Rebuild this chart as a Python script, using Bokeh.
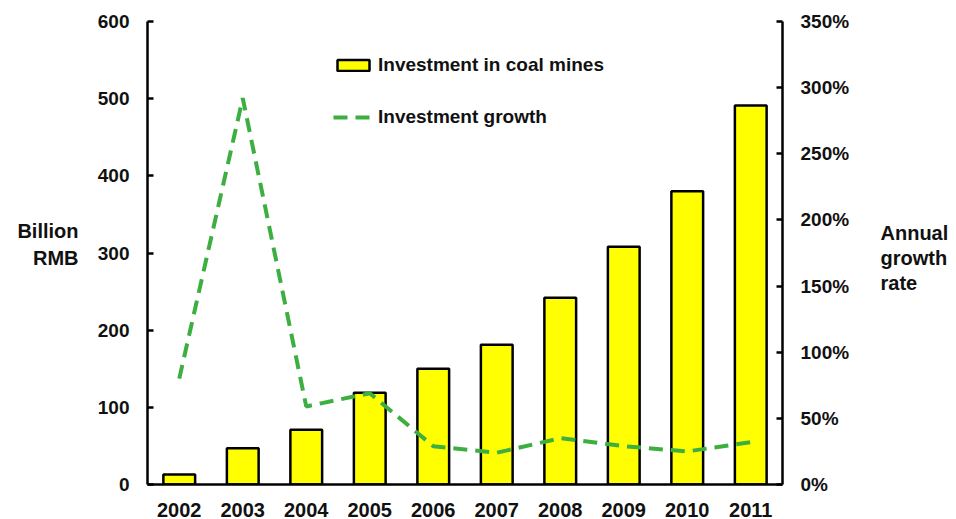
from bokeh.plotting import figure
from bokeh.models import (Range1d, LinearAxis, FixedTicker, NumeralTickFormatter,
                          Legend, LegendItem, FactorRange)
from bokeh.embed import file_html
from bokeh.resources import INLINE

years = ["2002", "2003", "2004", "2005", "2006", "2007", "2008", "2009", "2010", "2011"]
investment = [13, 47, 71, 119, 150, 181, 242, 308, 380, 491]
growth = [0.80, 2.92, 0.59, 0.69, 0.29, 0.24, 0.35, 0.29, 0.25, 0.32]
left_ticks = [0, 100, 200, 300, 400, 500, 600]
right_ticks = [0, 0.5, 1.0, 1.5, 2.0, 2.5, 3.0, 3.5]
left_title = ["Billion", "RMB"]
right_title = ["Annual", "growth", "rate"]

FONT = "Liberation Sans"

p = figure(width=956, height=519, x_range=FactorRange(*years, range_padding=0),
           y_range=Range1d(0, 600), output_backend="svg", toolbar_location=None,
           min_border_left=147, min_border_right=174, min_border_top=21, min_border_bottom=35)
p.extra_y_ranges = {"g": Range1d(0, 3.5), "t": Range1d(0, 350)}
p.outline_line_color = None
p.xgrid.grid_line_color = None
p.ygrid.grid_line_color = None

bars = p.vbar(x=years, top=investment, width=0.5, fill_color="#FFFF00",
              line_color="black", line_width=2.5)
line = p.line(x=years, y=growth, y_range_name="g", line_color="#3CAF40",
              line_width=4, line_dash="14 8")

p.yaxis[0].ticker = FixedTicker(ticks=left_ticks)
p.xaxis.major_tick_line_color = None
p.xaxis.minor_tick_line_color = None
p.xaxis.major_label_standoff = 12

right = LinearAxis(y_range_name="g", ticker=FixedTicker(ticks=right_ticks),
                   formatter=NumeralTickFormatter(format="0%"))
p.add_layout(right, "right")

for ax in [p.xaxis[0], p.yaxis[0], right]:
    ax.axis_line_width = 2.5
    ax.axis_line_color = "black"
    ax.major_label_text_font = FONT
    ax.major_label_text_font_style = "bold"
    ax.major_label_text_font_size = "19px"
    ax.major_label_text_color = "#111111"
p.xaxis.major_label_text_font_size = "20px"
for ax in [p.yaxis[0], right]:
    ax.major_tick_in = 6
    ax.major_tick_out = 0
    ax.major_tick_line_width = 2.5
    ax.minor_tick_line_color = None
    ax.major_label_standoff = 18

# axis titles drawn as label-only axes outside the value axes
lt_pos = [328, 294]
lt_axis = LinearAxis(ticker=FixedTicker(ticks=lt_pos),
                     major_label_overrides={v: t for v, t in zip(lt_pos, left_title)})
rt_pos = [190, 171, 152]
rt_axis = LinearAxis(y_range_name="t", ticker=FixedTicker(ticks=rt_pos),
                     major_label_overrides={v: t for v, t in zip(rt_pos, right_title)})
for ax, so in [(lt_axis, 16), (rt_axis, 28)]:
    ax.axis_line_color = None
    ax.major_tick_line_color = None
    ax.minor_tick_line_color = None
    ax.major_tick_in = 0
    ax.major_tick_out = 0
    ax.major_label_standoff = so
    ax.major_label_text_font = FONT
    ax.major_label_text_font_style = "bold"
    ax.major_label_text_font_size = "20px"
    ax.major_label_text_color = "#111111"
p.add_layout(lt_axis, "left")
p.add_layout(rt_axis, "right")

legend = Legend(items=[LegendItem(label="Investment in coal mines", renderers=[bars]),
                       LegendItem(label="Investment growth", renderers=[line])],
                location=(186, 356), padding=0, spacing=30, glyph_width=40, glyph_height=14,
                label_text_font=FONT, label_text_font_style="bold", label_text_font_size="19px",
                label_text_color="#111111",
                label_standoff=5, border_line_color=None, background_fill_alpha=0,
                margin=0)
p.add_layout(legend)

open("out.html", "w").write(file_html(p, INLINE))
